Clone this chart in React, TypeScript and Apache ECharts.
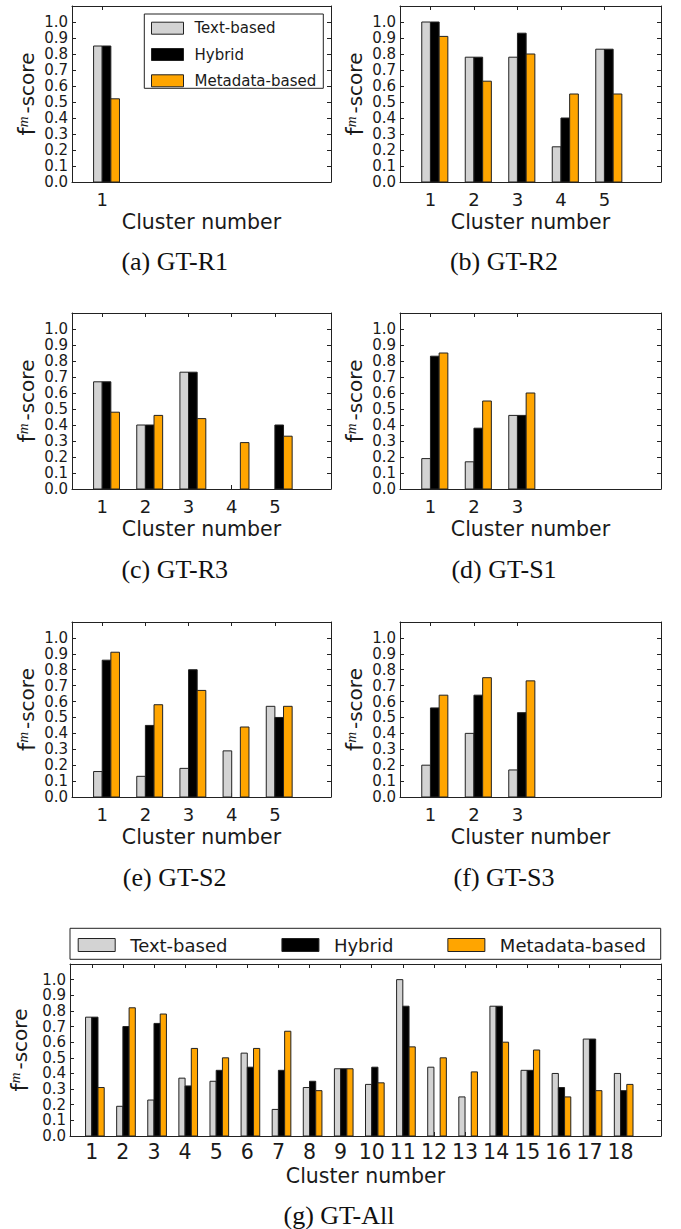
import React, { useEffect, useRef } from 'react';
import * as echarts from 'echarts';

// ---------- data ----------
const seriesNames = ['Text-based', 'Hybrid', 'Metadata-based'];

const r1Clusters = [1];
const r1Text = [0.85];
const r1Hybrid = [0.85];
const r1Meta = [0.52];

const r2Clusters = [1, 2, 3, 4, 5];
const r2Text = [1.0, 0.78, 0.78, 0.22, 0.83];
const r2Hybrid = [1.0, 0.78, 0.93, 0.4, 0.83];
const r2Meta = [0.91, 0.63, 0.8, 0.55, 0.55];

const r3Clusters = [1, 2, 3, 4, 5];
const r3Text = [0.67, 0.4, 0.73, 0, 0];
const r3Hybrid = [0.67, 0.4, 0.73, 0, 0.4];
const r3Meta = [0.48, 0.46, 0.44, 0.29, 0.33];

const s1Clusters = [1, 2, 3];
const s1Text = [0.19, 0.17, 0.46];
const s1Hybrid = [0.83, 0.38, 0.46];
const s1Meta = [0.85, 0.55, 0.6];

const s2Clusters = [1, 2, 3, 4, 5];
const s2Text = [0.16, 0.13, 0.18, 0.29, 0.57];
const s2Hybrid = [0.86, 0.45, 0.8, 0, 0.5];
const s2Meta = [0.91, 0.58, 0.67, 0.44, 0.57];

const s3Clusters = [1, 2, 3];
const s3Text = [0.2, 0.4, 0.17];
const s3Hybrid = [0.56, 0.64, 0.53];
const s3Meta = [0.64, 0.75, 0.73];

const allClusters = [1, 2, 3, 4, 5, 6, 7, 8, 9, 10, 11, 12, 13, 14, 15, 16, 17, 18];
const allText = [0.76, 0.19, 0.23, 0.37, 0.35, 0.53, 0.17, 0.31, 0.43, 0.33, 1.0, 0.44, 0.25, 0.83, 0.42, 0.4, 0.62, 0.4];
const allHybrid = [0.76, 0.7, 0.72, 0.32, 0.42, 0.44, 0.42, 0.35, 0.43, 0.44, 0.83, 0, 0, 0.83, 0.42, 0.31, 0.62, 0.29];
const allMeta = [0.31, 0.82, 0.78, 0.56, 0.5, 0.56, 0.67, 0.29, 0.43, 0.34, 0.57, 0.5, 0.41, 0.6, 0.55, 0.25, 0.29, 0.33];

const captions = ['(a) GT-R1', '(b) GT-R2', '(c) GT-R3', '(d) GT-S1', '(e) GT-S2', '(f) GT-S3', '(g) GT-All'];
const xAxisTitle = 'Cluster number';

const panels = [
  { clusters: r1Clusters, values: [r1Text, r1Hybrid, r1Meta], slots: 6 },
  { clusters: r2Clusters, values: [r2Text, r2Hybrid, r2Meta], slots: 6 },
  { clusters: r3Clusters, values: [r3Text, r3Hybrid, r3Meta], slots: 6 },
  { clusters: s1Clusters, values: [s1Text, s1Hybrid, s1Meta], slots: 6 },
  { clusters: s2Clusters, values: [s2Text, s2Hybrid, s2Meta], slots: 6 },
  { clusters: s3Clusters, values: [s3Text, s3Hybrid, s3Meta], slots: 6 },
  { clusters: allClusters, values: [allText, allHybrid, allMeta], slots: 19 },
];

// ---------- layout & style ----------
const SANS = 'DejaVu Sans';
const SERIF = 'Liberation Serif';
const INK = '#1a1a1a';
const EDGE = '#222';
const barColors = ['#d3d3d3', '#000000', '#ffa500'];
const BAR_W = 0.2;

const layouts = [
  { left: 72, top: 6, width: 259, height: 176, capX: 174.7, capY: 261.7, xFont: 18, xMargin: 8 },
  { left: 400, top: 6, width: 261, height: 176, capX: 504, capY: 261.7, xFont: 18, xMargin: 8 },
  { left: 72, top: 313, width: 259, height: 176, capX: 174.7, capY: 569.2, xFont: 18, xMargin: 8 },
  { left: 400, top: 313, width: 261, height: 176, capX: 504, capY: 569.2, xFont: 18, xMargin: 8 },
  { left: 72, top: 622, width: 259, height: 175, capX: 174.7, capY: 877.7, xFont: 18, xMargin: 8 },
  { left: 400, top: 622, width: 261, height: 175, capX: 504, capY: 877.7, xFont: 18, xMargin: 8 },
  { left: 70, top: 964, width: 591, height: 172, capX: 339, capY: 1215, xFont: 20.5, xMargin: 5 },
];

function buildOption() {
  const grid: any[] = [];
  const xAxis: any[] = [];
  const yAxis: any[] = [];
  const series: any[] = [];

  panels.forEach((p, i) => {
    const l = layouts[i];
    grid.push({ left: l.left, top: l.top, width: l.width, height: l.height, containLabel: false, outerBoundsMode: 'none' });
    const ticks = p.clusters.map((c) => c - 0.5 + BAR_W);
    const lineStyle = { color: EDGE, width: 1 };
    const tick = { show: true, inside: true, length: 4, customValues: ticks, lineStyle };
    xAxis.push({
      gridIndex: i, type: 'value', position: 'bottom', min: 0, max: p.slots,
      axisLine: { show: true, onZero: false, lineStyle },
      axisTick: tick,
      axisLabel: {
        show: true, customValues: ticks, margin: l.xMargin,
        formatter: (v: number) => String(Math.round(v + 0.5 - BAR_W)),
        fontSize: l.xFont, fontFamily: SANS, color: INK,
      },
      splitLine: { show: false },
      name: xAxisTitle, nameLocation: 'middle', nameGap: 29,
      nameTextStyle: { fontSize: 20.5, fontFamily: SANS, color: INK },
    });
    xAxis.push({
      gridIndex: i, type: 'value', position: 'top', min: 0, max: p.slots,
      axisLine: { show: true, onZero: false, lineStyle },
      axisTick: tick,
      axisLabel: { show: false },
      splitLine: { show: false },
    });
    const yTick = { show: true, inside: true, length: 4, lineStyle };
    yAxis.push({
      gridIndex: i, type: 'value', position: 'left', min: 0, max: 1.1, interval: 0.1,
      axisLine: { show: true, onZero: false, lineStyle },
      axisTick: yTick,
      axisLabel: {
        show: true, margin: 4,
        formatter: (v: number) => (v > 1.05 ? '' : v.toFixed(1)),
        fontSize: 15, fontFamily: SANS, color: INK,
      },
      splitLine: { show: false },
      name: '{f|f}{m|m}{s|-score}', nameLocation: 'middle', nameRotate: 90, nameGap: 33,
      nameTextStyle: {
        color: INK,
        rich: {
          f: { fontSize: 23, fontFamily: SANS, color: INK, lineHeight: 24 },
          m: { fontSize: 15, fontStyle: 'italic', fontFamily: SERIF, color: INK, lineHeight: 15, verticalAlign: 'top', padding: [0, 3, 0, 0] },
          s: { fontSize: 20, fontFamily: SANS, color: INK, lineHeight: 24 },
        },
      },
    });
    yAxis.push({
      gridIndex: i, type: 'value', position: 'right', min: 0, max: 1.1, interval: 0.1,
      axisLine: { show: true, onZero: false, lineStyle },
      axisTick: yTick,
      axisLabel: { show: false },
      splitLine: { show: false },
    });

    seriesNames.forEach((name, j) => {
      series.push({
        type: 'custom', name,
        xAxisIndex: 2 * i, yAxisIndex: 2 * i,
        data: p.clusters.map((c, k) => [c, p.values[j][k]]),
        encode: { x: 0, y: 1 },
        itemStyle: { color: barColors[j] },
        renderItem: (params: any, api: any) => {
          const c = api.value(0);
          const v = api.value(1);
          if (!(v > 0)) return null;
          const x0 = c - 0.5 + j * BAR_W;
          const a = api.coord([x0, v]);
          const b = api.coord([x0 + BAR_W, 0]);
          return {
            type: 'rect',
            shape: { x: a[0], y: a[1], width: b[0] - a[0], height: b[1] - a[1] },
            style: { fill: barColors[j], stroke: EDGE, lineWidth: 1 },
          };
        },
      });
    });
  });

  const legendData = seriesNames.map((n, j) => ({
    name: n, icon: 'rect',
    itemStyle: { color: barColors[j], borderColor: EDGE, borderWidth: 1 },
  }));

  const legend = [
    {
      orient: 'vertical', left: 151, top: 20.7, itemWidth: 32, itemHeight: 12, itemGap: 11.3,
      padding: 0, z: 10, selectedMode: false, data: legendData,
      textStyle: { fontSize: 15, fontFamily: SANS, color: INK, lineHeight: 12, padding: [0, 0, 0, 6] },
    },
    {
      orient: 'horizontal', left: 77.7, top: 936, itemWidth: 37, itemHeight: 13, itemGap: 54,
      padding: 0, z: 10, selectedMode: false, data: legendData,
      textStyle: { fontSize: 18, fontFamily: SANS, color: INK, lineHeight: 13, padding: [0, 0, 0, 10] },
    },
  ];

  const graphic: any[] = [
    { type: 'rect', z: 9, shape: { x: 144.3, y: 14, width: 179, height: 74.3 }, style: { fill: '#fff', stroke: EDGE, lineWidth: 1 } },
    { type: 'rect', z: 9, shape: { x: 70, y: 928.3, width: 590.7, height: 31 }, style: { fill: '#fff', stroke: EDGE, lineWidth: 1 } },
    ...captions.map((t, i) => ({
      type: 'text', x: layouts[i].capX, y: layouts[i].capY,
      style: { text: t, fontSize: 26, fontFamily: SERIF, fill: '#111', align: 'center', verticalAlign: 'middle' },
    })),
  ];

  return { animation: false, backgroundColor: '#fff', grid, xAxis, yAxis, series, legend, graphic };
}

export default function App() {
  const ref = useRef<HTMLDivElement>(null);
  useEffect(() => {
    if (!ref.current) return;
    const chart = echarts.init(ref.current, undefined, { renderer: 'svg' });
    chart.setOption(buildOption() as any);
    return () => chart.dispose();
  }, []);
  return (
    <div
      ref={ref}
      style={{ position: 'absolute', left: 0, top: 0, width: 681, height: 1229, background: '#fff' }}
    />
  );
}
